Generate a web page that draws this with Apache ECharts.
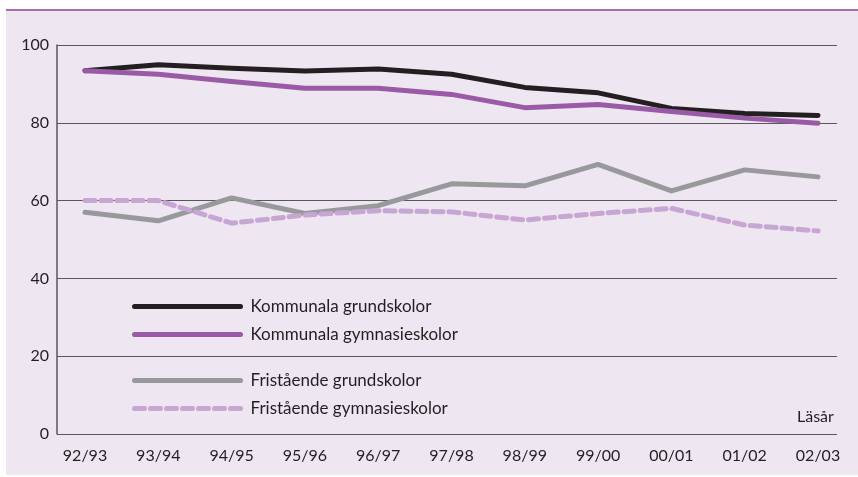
<!DOCTYPE html>
<html>
<head>
<meta charset="utf-8">
<script src="https://cdn.jsdelivr.net/npm/echarts@6/dist/echarts.min.js"></script>
<style>
  html, body { margin: 0; padding: 0; background: #fff; }
  #chart { width: 858px; height: 477px; }
</style>
</head>
<body>
<div id="chart"></div>
<script>
const years = ["92/93", "93/94", "94/95", "95/96", "96/97", "97/98", "98/99", "99/00", "00/01", "01/02", "02/03"];
const kommunalaGrund = [93.4, 94.9, 94.0, 93.3, 93.8, 92.5, 89.1, 87.7, 83.7, 82.4, 81.9];
const kommunalaGymn = [93.4, 92.5, 90.6, 88.9, 88.9, 87.3, 83.9, 84.7, 82.9, 81.2, 79.9];
const friGrund = [57.0, 54.8, 60.7, 56.7, 58.7, 64.3, 63.8, 69.3, 62.5, 67.9, 66.1];
const friGymn = [60.0, 60.0, 54.2, 56.3, 57.4, 57.1, 55.0, 56.7, 58.0, 53.7, 52.2];

const textColor = "#231f20";
const font = "Lato, 'DejaVu Sans', sans-serif";

const chart = echarts.init(document.getElementById("chart"));

const lineSeries = (name, data, color, dashed) => ({
  name,
  type: "line",
  data,
  xAxisIndex: 1,
  yAxisIndex: 1,
  symbol: "none",
  lineStyle: {
    color,
    width: 5,
    cap: "round",
    join: "round",
    type: dashed ? [10, 6] : "solid",
  },
  itemStyle: { color },
  animation: false,
});

const legendBase = {
  orient: "vertical",
  left: 127,
  itemWidth: 106,
  itemHeight: 14,
  itemGap: 11,
  itemStyle: { opacity: 0 },
  lineStyle: { width: 5, cap: "round" },
  textStyle: { fontSize: 17, color: textColor, fontFamily: font, padding: [0, 0, 0, 5] },
  selectedMode: false,
};

const option = {
  backgroundColor: "#ffffff",
  textStyle: { fontFamily: font, color: textColor },
  graphic: [
    {
      type: "rect",
      z: -10,
      shape: { x: 6, y: 10, width: 852, height: 465 },
      style: { fill: "#eee6f1" },
    },
    {
      type: "line",
      z: -9,
      shape: { x1: 6, y1: 10, x2: 858, y2: 10 },
      style: { stroke: "#a66bb1", lineWidth: 2 },
    },
    {
      type: "text",
      left: 797,
      top: 409,
      style: { text: "Läsår", font: "16px " + font, fill: textColor },
    },
  ],
  legend: [
    Object.assign({}, legendBase, {
      data: ["Kommunala grundskolor", "Kommunala gymnasieskolor"],
      top: 293,
    }),
    Object.assign({}, legendBase, {
      data: ["Fristående grundskolor", "Fristående gymnasieskolor"],
      top: 367,
    }),
  ],
  grid: [
    { left: 57, right: 21, top: 45, bottom: 43 },
    { left: 85, right: 40, top: 45, bottom: 43 },
  ],
  xAxis: [
    {
      gridIndex: 0,
      type: "value",
      min: 0,
      max: 1,
      show: false,
    },
    {
      gridIndex: 1,
      type: "category",
      data: years,
      boundaryGap: false,
      axisLine: { show: false },
      axisTick: { show: false },
      axisLabel: { fontSize: 16, color: textColor, margin: 14, fontFamily: font },
    },
  ],
  yAxis: [
    {
      gridIndex: 0,
      type: "value",
      min: 0,
      max: 100,
      interval: 20,
      axisLine: { show: true, lineStyle: { color: "#5b575c", width: 1.5 } },
      axisTick: { show: false },
      axisLabel: { fontSize: 16, color: textColor, margin: 8, fontFamily: font },
      splitLine: { show: true, lineStyle: { color: "#5b575c", width: 1.2 } },
    },
    {
      gridIndex: 1,
      type: "value",
      min: 0,
      max: 100,
      interval: 20,
      show: false,
      splitLine: { show: false },
    },
  ],
  series: [
    lineSeries("Kommunala grundskolor", kommunalaGrund, "#231f20", false),
    lineSeries("Kommunala gymnasieskolor", kommunalaGymn, "#9a5ba6", false),
    lineSeries("Fristående grundskolor", friGrund, "#98999b", false),
    lineSeries("Fristående gymnasieskolor", friGymn, "#c8a6d3", true),
  ],
};

chart.setOption(option);
</script>
</body>
</html>
